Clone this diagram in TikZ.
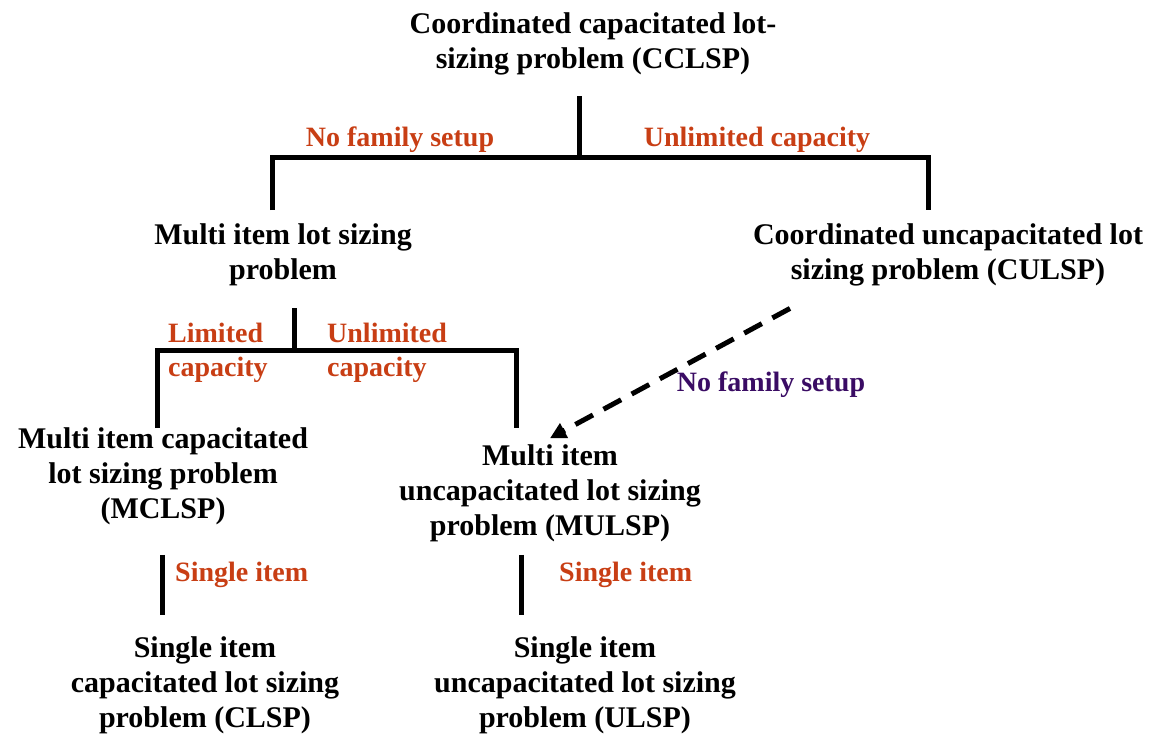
\documentclass[tikz,border=0pt]{standalone}
\usepackage{fontspec}
\setmainfont{Liberation Serif}
\usepackage{tikz}
\usetikzlibrary{arrows.meta,positioning,calc}
\definecolor{labelred}{RGB}{200,62,20}
\definecolor{labelpurple}{RGB}{58,12,100}

\begin{document}
\begin{tikzpicture}[
  x=1pt, y=-1pt,
  prob/.style={
    align=center, inner sep=0pt,
    font=\fontsize{30}{35}\selectfont\bfseries
  },
  lbl/.style={
    text=labelred, align=left, inner sep=0pt,
    font=\fontsize{28}{34}\selectfont\bfseries
  },
  tree/.style={line width=5pt, line join=miter},
  dasharr/.style={-{Triangle[length=16pt,width=16pt]}, line width=5pt,
    dash pattern=on 20pt off 12pt}
]
  \useasboundingbox (0,0) rectangle (1166,738);

  % problems
  \node[prob] (ccl) at (593,44)  {Coordinated capacitated lot-\\ sizing problem (CCLSP)};
  \node[prob] (mil) at (283,255) {Multi item lot sizing\\ problem};
  \node[prob] (cul) at (948,255) {Coordinated uncapacitated lot\\ sizing problem (CULSP)};
  \node[prob] (mcl) at (163,476) {Multi item capacitated\\ lot sizing problem\\ (MCLSP)};
  \node[prob] (mul) at (550,493) {Multi item\\ uncapacitated lot sizing\\ problem (MULSP)};
  \node[prob] (cls) at (205,685) {Single item\\ capacitated lot sizing\\ problem (CLSP)};
  \node[prob] (uls) at (585,685) {Single item\\ uncapacitated lot sizing\\ problem (ULSP)};

  % branch labels
  \node[lbl] (nofam)  at (400,140) {No family setup};
  \node[lbl] (unlim)  at (757,140) {Unlimited capacity};
  \node[lbl, anchor=west] (limcap) at (168,353) {Limited\\ capacity};
  \node[lbl, anchor=west] (unlcap) at (327,353) {Unlimited\\ capacity};
  \node[lbl, text=labelpurple] (nofam2) at (771,385) {No family setup};
  \node[lbl, anchor=west] (sing1) at (175,575) {Single item};
  \node[lbl, anchor=west] (sing2) at (559,575) {Single item};

  % first split
  \coordinate (s1)  at (579,158);
  \coordinate (s1l) at (272,158);
  \coordinate (s1r) at (928,158);
  \coordinate (d1l) at (272,210);
  \coordinate (d1r) at (928,210);
  \draw[tree, shorten <=21pt] (ccl.south -| s1) -- (s1);
  \draw[tree] (d1l) -- (s1l) -- (s1r) -- (d1r);

  % second split
  \coordinate (s2)  at (294,350);
  \coordinate (s2l) at (157,350);
  \coordinate (s2r) at (516,350);
  \coordinate (d2l) at (157,428);
  \coordinate (d2r) at (516,428);
  \draw[tree, shorten <=22pt] (mil.south -| s2) -- (s2);
  \draw[tree] (d2l) -- (s2l) -- (s2r) -- (d2r);

  % single item
  \coordinate (e1) at (162,615);
  \coordinate (e2) at (521,615);
  \draw[tree, shorten <=30pt] (mcl.south -| e1) -- (e1);
  \draw[tree, shorten <=13pt] (mul.south -| e2) -- (e2);

  \draw[dasharr] ([xshift=-158pt,yshift=-22pt]cul.south) -- ([yshift=6pt]mul.north);
\end{tikzpicture}
\end{document}
